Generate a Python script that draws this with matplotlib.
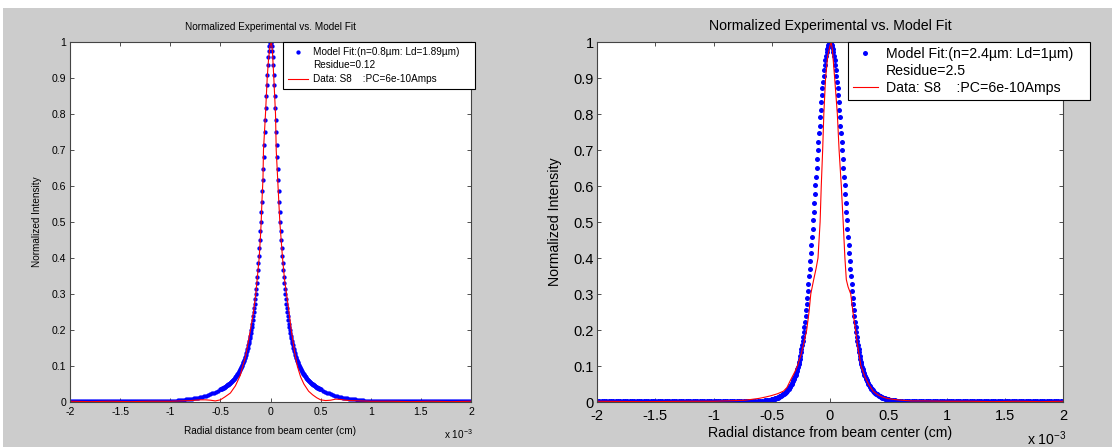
import numpy as np
import matplotlib
matplotlib.use("Agg")
import matplotlib.pyplot as plt
from matplotlib.lines import Line2D
from matplotlib.patches import Rectangle

plt.rcParams['font.family'] = ['Liberation Sans', 'DejaVu Sans']
plt.rcParams['mathtext.fontset'] = 'custom'
plt.rcParams['mathtext.rm'] = 'Liberation Sans'

# radial positions (x 1e-3 cm) for one half of the symmetric model curves
x_half = np.concatenate([np.arange(0, 0.5001, 0.005),
                         np.arange(0.52, 2.0001, 0.02)])

# model fit, left panel (n=0.8um, Ld=1.89um)
model_left_half = [
    1.0, 0.997, 0.989, 0.976, 0.958, 0.935, 0.909, 0.881, 0.849, 0.817,
    0.783, 0.749, 0.715, 0.681, 0.648, 0.616, 0.585, 0.555, 0.527, 0.500,
    0.474, 0.450, 0.427, 0.406, 0.385, 0.366, 0.348, 0.331, 0.315, 0.300,
    0.286, 0.273, 0.261, 0.249, 0.238, 0.228, 0.218, 0.209, 0.200, 0.192,
    0.184, 0.177, 0.170, 0.163, 0.157, 0.151, 0.146, 0.141, 0.136, 0.131,
    0.126, 0.122, 0.118, 0.114, 0.110, 0.107, 0.103, 0.100, 0.097, 0.094,
    0.091, 0.088, 0.086, 0.083, 0.081, 0.079, 0.077, 0.074, 0.072, 0.071,
    0.069, 0.067, 0.065, 0.063, 0.062, 0.060, 0.059, 0.057, 0.056, 0.055,
    0.053, 0.052, 0.051, 0.050, 0.049, 0.048, 0.047, 0.046, 0.045, 0.044,
    0.043, 0.042, 0.041, 0.040, 0.039, 0.039, 0.038, 0.037, 0.036, 0.036,
    0.035,
    0.031, 0.028, 0.026, 0.024, 0.021, 0.019, 0.017, 0.016, 0.014, 0.013,
    0.012, 0.011, 0.010, 0.009, 0.008, 0.007, 0.007, 0.006, 0.006, 0.005,
    0.005, 0.004, 0.004, 0.004, 0.003, 0.003, 0.003, 0.003, 0.003, 0.003,
    0.003, 0.003, 0.003, 0.003, 0.003, 0.003, 0.003, 0.003, 0.003, 0.003,
    0.003, 0.003, 0.003, 0.002, 0.002, 0.002, 0.002, 0.002, 0.002, 0.002,
    0.002, 0.002, 0.002, 0.002, 0.002, 0.002, 0.002, 0.002, 0.002, 0.002,
    0.002, 0.002, 0.002, 0.002, 0.002, 0.002, 0.002, 0.002, 0.002, 0.002,
    0.002, 0.002, 0.002, 0.002, 0.002,
]

# model fit, right panel (n=2.4um, Ld=1um)
model_right_half = [
    1.0, 0.999, 0.997, 0.993, 0.987, 0.980, 0.971, 0.961, 0.949, 0.936,
    0.922, 0.906, 0.890, 0.872, 0.853, 0.833, 0.812, 0.791, 0.768, 0.746,
    0.722, 0.699, 0.675, 0.650, 0.626, 0.602, 0.577, 0.553, 0.529, 0.505,
    0.481, 0.458, 0.435, 0.413, 0.391, 0.369, 0.349, 0.329, 0.309, 0.290,
    0.272, 0.255, 0.238, 0.222, 0.207, 0.194, 0.181, 0.169, 0.158, 0.148,
    0.138, 0.129, 0.120, 0.112, 0.105, 0.098, 0.092, 0.086, 0.081, 0.076,
    0.072, 0.068, 0.064, 0.060, 0.057, 0.053, 0.050, 0.047, 0.044, 0.041,
    0.039, 0.037, 0.035, 0.033, 0.031, 0.029, 0.028, 0.026, 0.025, 0.023,
    0.022, 0.021, 0.020, 0.019, 0.018, 0.017, 0.016, 0.015, 0.014, 0.013,
    0.012, 0.0115, 0.011, 0.0105, 0.010, 0.0095, 0.009, 0.0085, 0.008, 0.0075,
    0.007,
    0.006, 0.005, 0.005, 0.004, 0.004, 0.003, 0.003, 0.003, 0.003, 0.003,
    0.003, 0.003, 0.003, 0.003, 0.003, 0.003, 0.003, 0.003, 0.003, 0.003,
    0.003, 0.003, 0.003, 0.003, 0.003, 0.003, 0.003, 0.003, 0.003, 0.003,
    0.003, 0.003, 0.003, 0.003, 0.003, 0.002, 0.002, 0.002, 0.002, 0.002,
    0.002, 0.002, 0.002, 0.002, 0.002, 0.002, 0.002, 0.002, 0.002, 0.002,
    0.002, 0.002, 0.002, 0.002, 0.002, 0.002, 0.002, 0.002, 0.002, 0.002,
    0.002, 0.002, 0.002, 0.002, 0.002, 0.002, 0.002, 0.002, 0.002, 0.002,
    0.002, 0.002, 0.002, 0.002, 0.002,
]

# measured data S8, PC=6e-10 A
data_left_x = [-2.0, -1.8, -1.6, -1.4, -1.2, -1.0, -0.9, -0.8, -0.7, -0.65,
               -0.6, -0.55, -0.5, -0.45, -0.4, -0.35, -0.3, -0.277, -0.25, -0.2,
               -0.17, -0.147, -0.13, -0.113, -0.1, -0.093, -0.085, -0.075, -0.07, -0.06,
               -0.05, -0.033, -0.02, -0.005, 0.01, 0.02, 0.033, 0.05, 0.057, 0.075,
               0.093, 0.12, 0.14, 0.16, 0.18, 0.207, 0.24, 0.267, 0.3, 0.333,
               0.38, 0.42, 0.46, 0.5, 0.55, 0.6, 0.65, 0.7, 0.75, 0.8,
               0.9, 1.0, 1.2, 1.4, 1.6, 1.8, 2.0]
data_left_y = [0.002, 0.001, 0.002, 0.001, 0.002, 0.002, 0.003, 0.004, 0.006, 0.006,
               0.005, 0.003, 0.006, 0.015, 0.025, 0.045, 0.075, 0.1, 0.125, 0.2,
               0.25, 0.3, 0.35, 0.4, 0.46, 0.5, 0.56, 0.62, 0.7, 0.75,
               0.8, 0.9, 0.95, 0.99, 1.0, 0.97, 0.9, 0.8, 0.7, 0.6,
               0.5, 0.4, 0.34, 0.3, 0.26, 0.2, 0.14, 0.1, 0.07, 0.05,
               0.03, 0.02, 0.012, 0.006, 0.004, 0.005, 0.008, 0.007, 0.005, 0.004,
               0.003, 0.002, 0.002, 0.001, 0.002, 0.001, 0.002]

data_right_x = [-2.0, -1.6, -1.2, -1.0, -0.9, -0.8, -0.73, -0.68, -0.61, -0.55,
                -0.5, -0.45, -0.4, -0.37, -0.34, -0.3, -0.28, -0.25, -0.22, -0.2,
                -0.18, -0.165, -0.14, -0.12, -0.103, -0.085, -0.075, -0.063, -0.053, -0.038,
                -0.02, 0.0, 0.01, 0.02, 0.04, 0.063, 0.078, 0.097, 0.113, 0.128,
                0.14, 0.155, 0.178, 0.197, 0.219, 0.24, 0.266, 0.3, 0.33, 0.37,
                0.41, 0.45, 0.49, 0.55, 0.61, 0.7, 0.8, 1.0, 1.2, 1.4,
                1.6, 1.8, 2.0]
data_right_y = [0.002, 0.001, 0.002, 0.002, 0.003, 0.004, 0.005, 0.007, 0.01, 0.014,
                0.018, 0.023, 0.03, 0.04, 0.06, 0.085, 0.1, 0.13, 0.17, 0.2,
                0.25, 0.3, 0.34, 0.37, 0.4, 0.5, 0.6, 0.7, 0.8, 0.9,
                0.96, 0.99, 1.0, 0.98, 0.9, 0.8, 0.7, 0.6, 0.5, 0.4,
                0.34, 0.32, 0.3, 0.25, 0.2, 0.15, 0.1, 0.07, 0.05, 0.03,
                0.02, 0.014, 0.01, 0.007, 0.005, 0.003, 0.003, 0.002, 0.002, 0.001,
                0.002, 0.001, 0.002]

xticks = [-2, -1.5, -1, -0.5, 0, 0.5, 1, 1.5, 2]
yticks = [0, 0.1, 0.2, 0.3, 0.4, 0.5, 0.6, 0.7, 0.8, 0.9, 1]

panels = [
    dict(rect=[70, 471], fs=7.2, tfs=7.6, ms=3.1, model=model_left_half,
         dx=data_left_x, dy=data_left_y,
         fit_label='Model Fit:(n=0.8µm: Ld=1.89µm)    ', residue='Residue=0.12',
         leg_x=283, ylab_x=37, xlab_y=431, title_y=27, mult=(444, 434),
         hl=2.0, htp=0.5, bp=0.5, ls=0.35, tpad=3.5),
    dict(rect=[597, 1063], fs=10.2, tfs=10.5, ms=3.6, model=model_right_half,
         dx=data_right_x, dy=data_right_y,
         fit_label='Model Fit:(n=2.4µm: Ld=1µm)   ', residue='Residue=2.5',
         leg_x=848, ylab_x=555, xlab_y=433, title_y=26, mult=(1027, 439),
         hl=1.75, htp=0.6, bp=0.35, ls=0.22, tpad=5),
]

W, H = 1112, 447
fig = plt.figure(figsize=(W / 100, H / 100), dpi=100, facecolor='white')
fig.patches.append(Rectangle((3 / W, 0), 1 - 3 / W, 1 - 8 / H,
                             transform=fig.transFigure, facecolor='#cccccc',
                             edgecolor='none', zorder=-10))

top, bottom = 42, 402
x_full = np.concatenate([-x_half[:0:-1], x_half]) * 1e-3

for p in panels:
    l, r = p['rect']
    ax = fig.add_axes([l / W, 1 - bottom / H, (r - l) / W, (bottom - top) / H])
    ax.set_facecolor('white')
    fs = p['fs']

    half = np.array(p['model'])
    y_full = np.concatenate([half[:0:-1], half])
    ax.plot(x_full, y_full, linestyle='none', marker='o', ms=p['ms'],
            mew=0, color='#0000ff')
    ax.plot(np.array(p['dx']) * 1e-3, p['dy'], color='#ff0000', lw=0.8)

    ax.set_xlim(-2e-3, 2e-3)
    ax.set_ylim(0, 1)
    ax.set_xticks([t * 1e-3 for t in xticks])
    ax.set_xticklabels([f'{t:g}' for t in xticks])
    ax.set_yticks(yticks)
    ax.set_yticklabels([f'{t:g}' for t in yticks])
    ax.tick_params(direction='in', length=3, width=0.6, labelsize=p['tfs'],
                   top=True, right=True, color='#333333')
    ax.tick_params(axis='x', pad=p['tpad'])
    ax.tick_params(axis='y', pad=2.5)
    for s in ax.spines.values():
        s.set_color('#444444')
        s.set_linewidth(0.8)

    ax.text(0.5, 1 + (top - p['title_y']) / (bottom - top),
            'Normalized Experimental vs. Model Fit', transform=ax.transAxes,
            ha='center', va='center', fontsize=fs)
    ax.set_xlabel('Radial distance from beam center (cm)', fontsize=fs)
    ax.xaxis.set_label_coords(0.5, (bottom - p['xlab_y']) / (bottom - top))
    ax.xaxis.label.set_va('center')
    ax.set_ylabel('Normalized Intensity', fontsize=fs)
    ax.yaxis.set_label_coords((p['ylab_x'] - l) / (r - l), 0.5)
    ax.yaxis.label.set_va('center')

    mx, my = p['mult']
    ax.text((mx - l) / (r - l), (bottom - my) / (bottom - top),
            r'x 10$^{\mathregular{-3}}$', transform=ax.transAxes,
            ha='left', va='center', fontsize=fs)

    handles = [
        Line2D([], [], linestyle='none', marker='o', ms=p['ms'], mew=0,
               color='#0000ff', label=p['fit_label']),
        Line2D([], [], linestyle='none', label=p['residue']),
        Line2D([], [], color='#ff0000', lw=0.8, label='Data: S8    :PC=6e-10Amps'),
    ]
    leg = ax.legend(handles=handles, loc='upper left',
                    bbox_to_anchor=(p['leg_x'] / W, 1 - top / H),
                    bbox_transform=fig.transFigure, borderaxespad=0,
                    fontsize=fs, handlelength=p['hl'], handletextpad=p['htp'],
                    borderpad=p['bp'], labelspacing=p['ls'], fancybox=False,
                    framealpha=1, edgecolor='black')
    leg.get_frame().set_linewidth(0.8)

fig.savefig('out.png', dpi=100, facecolor=fig.get_facecolor())
